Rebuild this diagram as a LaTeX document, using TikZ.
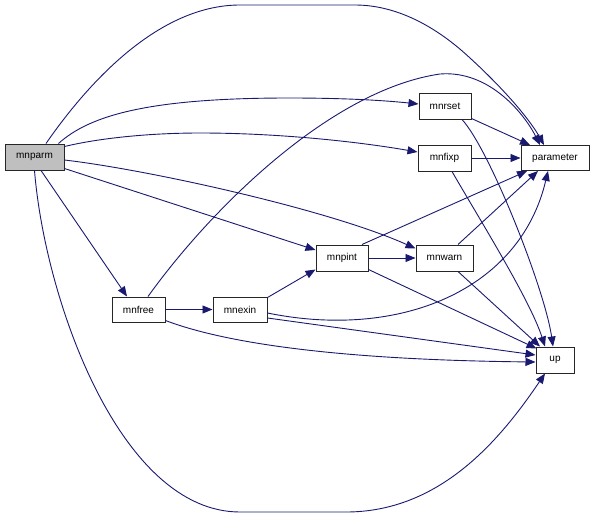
\documentclass[tikz,border=0pt]{standalone}
\usepackage{fontspec}
\setmainfont{Liberation Sans}
\usetikzlibrary{arrows.meta}
\definecolor{edgecol}{HTML}{191970}
\definecolor{rootfill}{HTML}{BFBFBF}
\begin{document}
\begin{tikzpicture}[x=1pt,y=-1pt,
  box/.style={draw=black!85, line width=1pt, fill=white, inner sep=0pt,
    minimum height=26pt, font=\fontsize{10}{12}\selectfont},
  rootbox/.style={box, fill=rootfill},
  edge/.style={draw=edgecol, line width=0.9pt, -{Triangle[length=10pt,width=8pt]}}]
\useasboundingbox (0,0) rectangle (595,517);
% nodes
\node[rootbox, minimum width=59pt] (mnparm) at (34.5,157) {mnparm};
\node[box, minimum width=52pt] (mnrset) at (445,106) {mnrset};
\node[box, minimum width=53pt] (mnfixp) at (444.5,158) {mnfixp};
\node[box, minimum width=68pt, minimum height=25pt] (parameter) at (555,158) {parameter};
\node[box, minimum width=52pt] (mnpint) at (342,258) {mnpint};
\node[box, minimum width=57pt] (mnwarn) at (444.5,258) {mnwarn};
\node[box, minimum width=53pt, minimum height=25pt] (mnfree) at (138.5,309.5) {mnfree};
\node[box, minimum width=54pt, minimum height=25pt] (mnexin) at (240,309.5) {mnexin};
\node[box, minimum width=38pt] (up) at (555,360) {up};
% edges from mnparm
\draw[edge] ([xshift=11.5pt]mnparm.north) .. controls (90,80) and (160,5) .. (240,5)
  -- (355,5) .. controls (400,5) and (440,30) .. (470,58)
  .. controls (505,90) and (530,120) .. ([xshift=-11pt]parameter.north);
\draw[edge] ([xshift=-6pt]mnparm.north east) .. controls (90,115) and (150,98) .. (289,98)
  .. controls (340,98) and (380,100) .. ([yshift=2pt]mnrset.west);
\draw[edge] ([yshift=-3pt]mnparm.north east) .. controls (100,138) and (150,133) .. (200,133)
  .. controls (280,133) and (360,142) .. ([yshift=6pt]mnfixp.west);
\draw[edge] ([yshift=-3pt]mnparm.east) .. controls (150,170) and (330,210) .. ([yshift=-4pt]mnwarn.north west);
\draw[edge] ([yshift=2pt]mnparm.south east) -- ([yshift=8pt]mnpint.west);
\draw[edge] ([xshift=6.5pt]mnparm.south) -- ([xshift=-11.5pt]mnfree.north);
\draw[edge] (mnparm.south) .. controls (45,300) and (120,512) .. (240,512)
  -- (346,512) .. controls (440,512) and (500,440) .. ([xshift=-10pt]up.south);
% mnrset
\draw[edge] ([yshift=1pt]mnrset.south east) -- ([xshift=-25pt]parameter.north);
\draw[edge] ([xshift=17pt]mnrset.south) .. controls (490,150) and (545,290) .. ([xshift=-2pt]up.north);
% mnfixp
\draw[edge] (mnfixp.east) -- (parameter.west);
\draw[edge] ([xshift=7.5pt]mnfixp.south) .. controls (480,220) and (530,300) .. ([xshift=-10pt]up.north);
% mnpint
\draw[edge] (mnpint.east) -- (mnwarn.west);
\draw[edge] ([xshift=20pt]mnpint.north) -- ([xshift=-28pt]parameter.south);
\draw[edge] ([yshift=2pt]mnpint.south east) -- ([xshift=1pt,yshift=-2pt]up.north west);
% mnwarn
\draw[edge] ([xshift=13.5pt]mnwarn.north) -- ([xshift=-17pt]parameter.south);
\draw[edge] ([xshift=13.5pt]mnwarn.south) -- ([xshift=-15pt]up.north);
% mnfree
\draw[edge] (mnfree.east) -- (mnexin.west);
\draw[edge] ([xshift=9.5pt]mnfree.north) .. controls (210,210) and (330,90) .. (440,74)
  .. controls (490,70) and (525,115) .. ([xshift=-15pt]parameter.north);
\draw[edge] ([yshift=2pt]mnfree.south east) .. controls (230,345) and (350,360) .. ([yshift=-2pt]up.west);
% mnexin
\draw[edge] ([yshift=-1pt]mnexin.north east) -- ([yshift=2pt]mnpint.south west);
\draw[edge] ([yshift=-3.5pt]mnexin.east) .. controls (400,340) and (520,290) .. ([xshift=-7pt]parameter.south);
\draw[edge] ([yshift=-8.5pt]mnexin.east) -- ([yshift=5pt]up.west);
\end{tikzpicture}
\end{document}
